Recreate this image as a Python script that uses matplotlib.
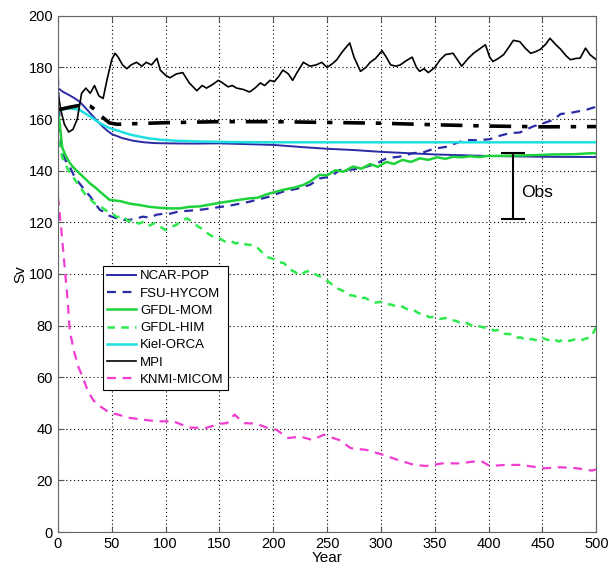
import matplotlib
matplotlib.use('Agg')
import matplotlib.pyplot as plt

plt.rcParams['font.family'] = ['Liberation Sans', 'DejaVu Sans']

# NCAR-POP (smooth)
ncar_years = [0, 5, 10, 15, 20, 25, 30, 35, 40, 45, 50, 60, 70, 80, 90, 100, 125, 150, 175, 200,
              225, 250, 275, 300, 350, 400, 450, 500]
ncar_sv = [172, 170.5, 169.4, 168.2, 166.8, 164.6, 162.3, 160, 157.7, 155.8, 154.2, 152.6, 151.6,
           151, 150.7, 150.6, 150.5, 150.6, 150.3, 150, 149.2, 148.5, 148, 147.3, 146.3, 145.7, 145.4, 145.3]

# FSU-HYCOM (dashed blue)
fsu_years = [0, 1, 2, 4, 7, 11, 15, 20, 25, 30, 35, 39, 43, 48, 55, 62, 67, 73, 79, 85, 92, 98,
             105, 112, 122, 135, 148, 160, 178, 195, 209, 222, 234, 243, 253, 262, 275, 287, 297,
             305, 318, 330, 340, 349, 360, 374, 380, 390, 401, 410, 420, 429, 441, 451, 460, 467,
             475, 482, 490, 500]
fsu_sv = [176.5, 165, 155, 147, 144, 141.6, 138, 135.1, 132.5, 130, 127, 124.8, 124, 122.5, 121.5,
          120.9, 121, 121.5, 122.2, 121.8, 123, 123.3, 123.4, 124.2, 124.5, 125, 125.8, 126.5, 128,
          129.8, 131.9, 133, 134.5, 137, 137.7, 140.3, 140.5, 141.6, 143, 144.8, 145.5, 146.8,
          147.2, 148.5, 149.2, 151.3, 151.9, 151.8, 152.2, 153.5, 154.6, 154.8, 157.1, 158.4,
          159.7, 162, 162.3, 162.9, 163.5, 164.8]

# GFDL-MOM (solid green)
mom_years = [0, 2, 4, 7, 11, 15, 20, 25, 30, 35, 39, 48, 58, 67, 76, 85, 95, 105, 113, 122, 132,
             148, 165, 178, 185, 195, 209, 220, 228, 234, 243, 250, 258, 265, 274, 282, 290, 297,
             305, 312, 320, 328, 336, 344, 352, 360, 367, 375, 383, 391, 399, 420, 440, 460, 480,
             497, 500]
mom_sv = [163, 157, 149, 146, 143, 141, 139, 137, 135, 133.4, 131.9, 128.7, 128.2, 127.2, 126.7,
          126, 125.6, 125.4, 125.4, 126, 126.2, 127.4, 128.5, 129.3, 129.5, 131, 132.6, 133.5, 134.5,
          135.8, 138.4, 138.2, 140.2, 139.6, 141.6, 140.8, 142.6, 141.5, 143.4, 142.6, 144.2, 143.4,
          144.8, 144.2, 145.2, 144.6, 145.4, 145.2, 145.6, 145.3, 145.7, 145.8, 146, 146.3, 146.4,
          146.8, 146.6]

# GFDL-HIM (dashed light green), sampled every 5 years
him_years = [0, 5, 10, 15, 20, 25, 30, 35, 40, 45, 50, 55, 60, 65, 70, 75, 80, 85, 90, 95, 100,
             105, 110, 115, 120, 125, 130, 135, 140, 145, 150, 155, 160, 165, 170, 175, 180, 185,
             190, 195, 200, 205, 210, 215, 220, 225, 230, 235, 240, 245, 250, 255, 260, 265, 270,
             275, 280, 285, 290, 295, 300, 305, 310, 315, 320, 325, 330, 335, 340, 345, 350, 355,
             360, 365, 370, 375, 380, 385, 390, 395, 400, 405, 410, 415, 420, 425, 430, 435, 440,
             445, 450, 455, 460, 465, 470, 475, 480, 485, 490, 495, 500]
him_sv = [152, 144, 140, 137, 134, 131, 129, 127, 126, 124.5, 123.5, 122, 122.5, 120.5, 120.8,
          119.5, 120.3, 118.8, 119.7, 118.3, 117, 118.2, 119, 120.6, 121.5, 120.2, 118.4, 117.2,
          115.4, 114.2, 113.8, 112.6, 112.9, 111.8, 112.4, 111.4, 111.2, 110.3, 108.2, 106.5, 105.8,
          104.6, 104.2, 101.8, 100.8, 99.4, 100.9, 101.2, 99.6, 98.8, 97.4, 95.8, 94.3, 93.4, 91.8,
          91.6, 90.4, 90.8, 89.6, 88.9, 89.2, 88.3, 88.1, 87.2, 87.3, 86.2, 86.1, 84.8, 84.4, 83.2,
          83.4, 82.6, 82.9, 82.1, 81.8, 80.7, 80.9, 79.8, 79.9, 79.3, 79.2, 78.1, 78.3, 76.8, 76.7,
          75.3, 75.4, 74.3, 74.8, 74.2, 75.2, 74.4, 74.9, 73.8, 74.7, 74.1, 74.6, 74.2, 74.9, 75.6, 79.3]

# Kiel-ORCA (cyan)
kiel_years = [0, 5, 11, 20, 30, 39, 48, 58, 67, 76, 85, 95, 110, 132, 160, 200, 250, 300, 400, 500]
kiel_sv = [162.9, 163.8, 164.2, 163.6, 161, 158.4, 156.5, 155.2, 154, 153.2, 152.5, 152, 151.6,
           151.3, 151.1, 151, 151, 151, 151, 151]

# MPI (solid black)
mpi_years = [0, 3, 6, 10, 14, 18, 22, 26, 30, 34, 38, 42, 46, 50, 53, 56, 60, 64, 68, 73, 78, 82,
             87, 92, 95, 100, 104, 110, 116, 122, 129, 134, 138, 144, 149, 153, 158, 162, 166, 172,
             178, 183, 188, 192, 197, 201, 205, 209, 214, 218, 222, 228, 234, 240, 245, 250, 255,
             259, 264, 268, 271, 275, 281, 286, 290, 295, 301, 305, 309, 314, 318, 323, 329, 333,
             336, 340, 344, 350, 355, 360, 367, 371, 375, 381, 386, 391, 397, 401, 404, 409, 414,
             419, 423, 429, 434, 439, 443, 448, 453, 457, 462, 467, 472, 476, 481, 485, 490, 494, 500]
mpi_sv = [170, 163, 158, 155, 156, 160, 170, 172, 170, 173, 169, 168, 176, 183, 185.5, 184, 181,
          179.5, 181, 182, 180.5, 182, 181, 183.5, 179, 177, 176, 177.5, 178, 174, 171, 173, 172,
          173.5, 175, 174, 172.5, 173, 172, 171.5, 170.5, 172, 174, 173, 175, 174.5, 176.5, 179,
          177.5, 175, 178, 182, 180.5, 181, 182, 180, 181.5, 183, 186, 188, 189.5, 184, 178.5, 180,
          182, 183.5, 186.5, 184, 181, 180.5, 181, 182.5, 184, 180, 178.5, 179.5, 178, 180, 183,
          185, 185.5, 183, 180.5, 183.5, 185.5, 187, 188.8, 184, 182.3, 183.5, 185, 188, 190.5,
          190, 187.5, 185.5, 186, 187, 189, 191.3, 189, 187, 184.5, 183, 183.5, 183.6, 187.5, 185, 183]

# KNMI-MICOM (dashed magenta)
knmi_years = [0, 3, 6, 9, 11, 15, 19, 23, 28, 33, 40, 48, 55, 67, 80, 92, 107, 122, 137, 151,
              157, 164, 173, 184, 195, 203, 214, 225, 236, 247, 255, 261, 272, 287, 302, 316, 331,
              342, 357, 372, 386, 394, 401, 416, 430, 445, 452, 467, 482, 496, 500]
knmi_sv = [130, 118, 104, 90, 78, 70, 64, 60, 54.5, 51, 48.5, 46.2, 45.6, 44.2, 43.5, 42.9, 42.9,
           40.5, 40.3, 42, 42.2, 45.5, 42.2, 42, 40.3, 39.6, 36.4, 37, 35.7, 37.7, 36.5, 35.7, 32.5,
           31.8, 29.9, 27.9, 26, 25.6, 26.6, 26.6, 27.3, 27.3, 25.6, 26, 26, 25.1, 24.7, 25.1, 24.7,
           23.8, 24.3]

# Benchmark dash-dot (thick black)
bench_years = [0, 10, 20, 25, 30, 35, 39, 44, 48, 55, 70, 100, 150, 200, 250, 300, 350, 400, 450, 500]
bench_sv = [163.6, 164.5, 165.3, 165.5, 165, 163.5, 161.6, 159.8, 158.5, 158, 158.2, 158.6, 159,
            159, 158.7, 158.4, 157.8, 157.3, 157, 157.1]

# Observational estimate
obs_year = 423
obs_center = 134.2
obs_err = 12.85

fig = plt.figure(figsize=(6.16, 5.66), dpi=100)
ax = fig.add_axes([0.094, 0.06, 0.874, 0.912])

ax.plot(ncar_years, ncar_sv, color='#2b2ba6', lw=1.4, label='NCAR-POP')
ax.plot(fsu_years, fsu_sv, color='#2b2ba6', lw=1.6, ls=(0, (4, 3)), label='FSU-HYCOM')
ax.plot(mom_years, mom_sv, color='#1ed23c', lw=1.8, label='GFDL-MOM')
ax.plot(him_years, him_sv, color='#2ee84e', lw=1.8, ls=(0, (3, 2.5)), label='GFDL-HIM')
ax.plot(kiel_years, kiel_sv, color='#1ee0e0', lw=1.8, label='Kiel-ORCA')
ax.plot(mpi_years, mpi_sv, color='black', lw=1.2, label='MPI')
ax.plot(knmi_years, knmi_sv, color='#f03cd0', lw=1.6, ls=(0, (4, 3)), label='KNMI-MICOM')
ax.plot(bench_years, bench_sv, color='black', lw=2.6, ls=(0, (6, 3, 1.5, 3)))

ax.errorbar([obs_year], [obs_center], yerr=[obs_err], fmt='none', ecolor='black',
            elinewidth=1.5, capsize=8.5, capthick=1.5)
ax.text(obs_year + 7, obs_center - 2.5, 'Obs', fontsize=12.5, va='center', ha='left')

ax.set_xlim(0, 500)
ax.set_ylim(0, 200)
ax.set_xticks(range(0, 501, 50))
ax.set_yticks(range(0, 201, 20))
ax.tick_params(direction='in', top=True, right=True, labelsize=10.5, length=4, color='#555555')
ax.grid(True, ls=(0, (1, 2.5)), color='black', lw=0.8)
for s in ax.spines.values():
    s.set_color('#666666')
ax.set_xlabel('Year', fontsize=11, labelpad=0)
ax.set_ylabel('Sv', fontsize=11, labelpad=1)

leg = ax.legend(loc='upper left', bbox_to_anchor=(0.084, 0.515), fontsize=9.5, frameon=True,
                fancybox=False, edgecolor='black', framealpha=1, handlelength=2.2,
                handletextpad=0.3, borderpad=0.3, labelspacing=0.38, borderaxespad=0)
leg.get_frame().set_linewidth(0.8)

fig.savefig('out.png', dpi=100)
